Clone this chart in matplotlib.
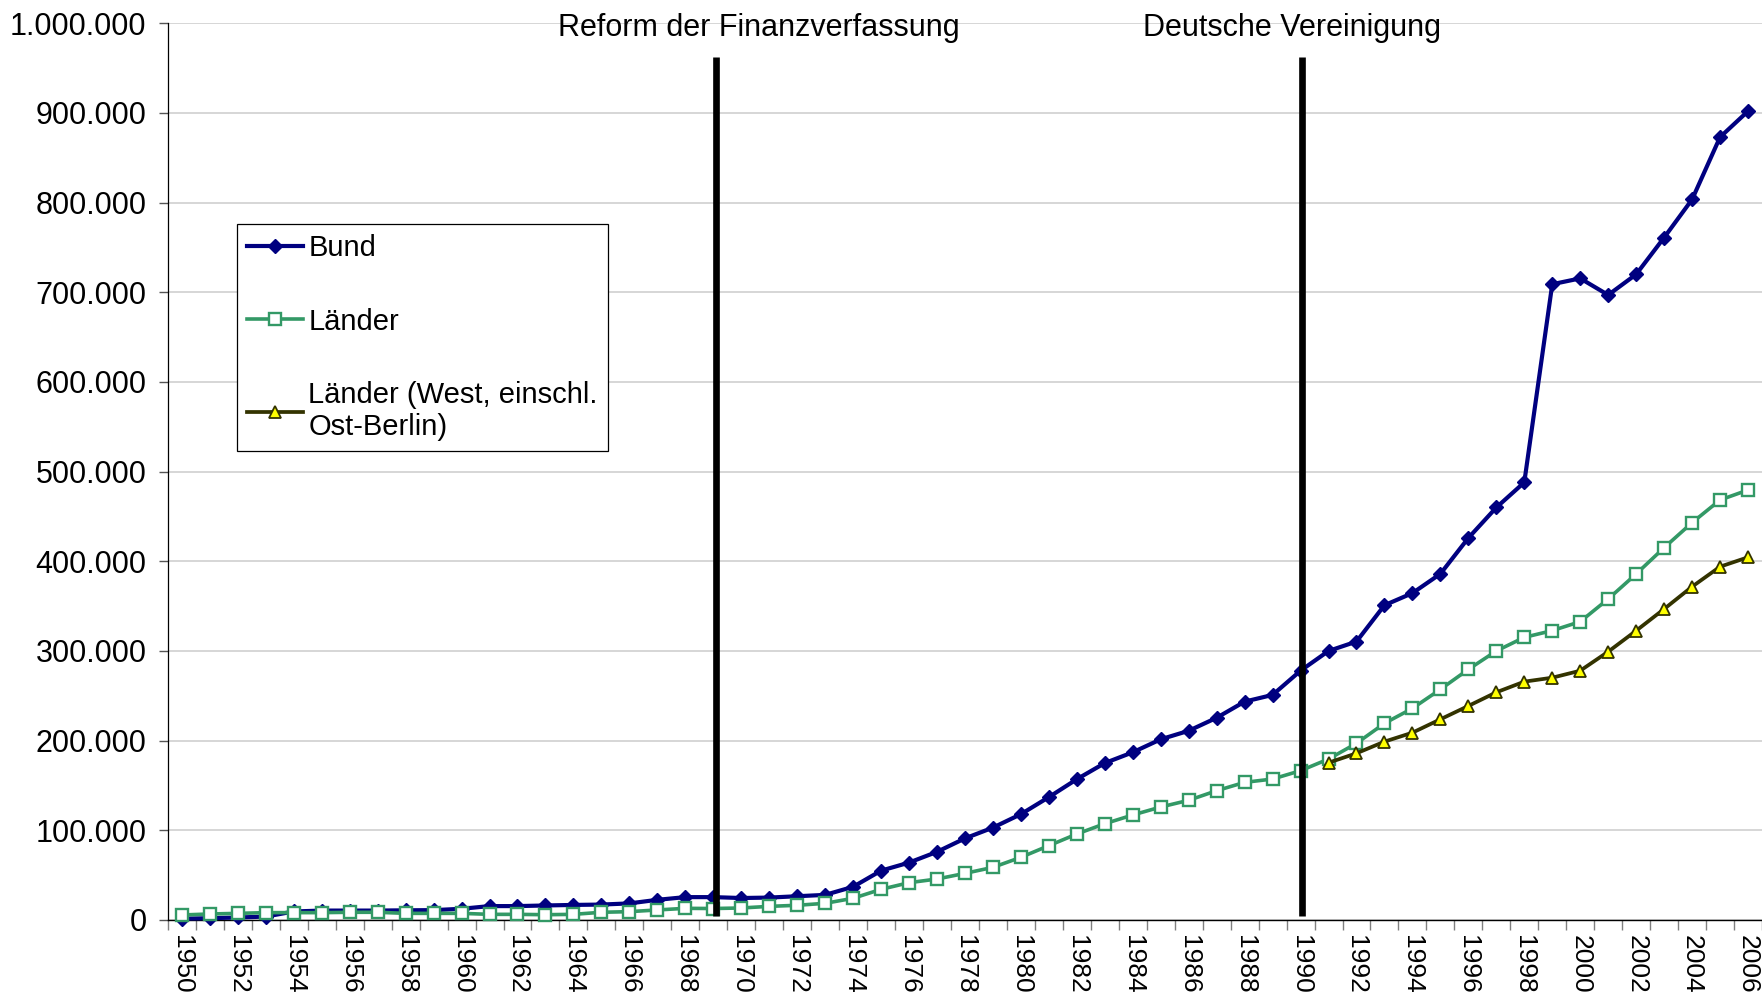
import matplotlib
matplotlib.use('Agg')
import matplotlib.pyplot as plt
from matplotlib.ticker import FuncFormatter

plt.rcParams['font.family'] = ['Liberation Sans', 'DejaVu Sans']

# Schulden in Tsd.
years = list(range(1950, 2007))
bund = [1.5, 2.0, 2.8, 3.8, 9.5, 10.5, 10.5, 10.5, 10.8, 11.0,
        12.5, 15.5, 15.5, 16.2, 16.8, 17.2, 18.5, 22.5, 25.5, 25.5,
        24.5, 25.0, 26.5, 28.0, 37.0, 55.0, 64.0, 76.0, 91.0, 103.0,
        118.0, 137.0, 157.0, 175.0, 187.0, 201.5, 211.0, 225.5, 243.5, 251.0,
        278.0, 300.0, 310.5, 351.0, 364.5, 386.0, 426.0, 460.0, 488.0, 709.0,
        715.5, 697.0, 720.0, 761.0, 803.5, 873.0, 902.0]
laender = [5.6, 6.7, 7.4, 8.2, 8.2, 8.2, 8.6, 8.6, 7.4, 7.4,
           7.4, 6.3, 6.3, 5.9, 6.3, 8.6, 9.3, 11.2, 13.0, 12.8,
           13.4, 15.2, 16.4, 18.6, 24.2, 34.2, 41.6, 45.7, 52.0, 58.7,
           69.9, 82.9, 95.9, 107.4, 117.1, 126.0, 133.5, 144.2, 153.5, 157.2,
           166.5, 179.5, 197.0, 219.3, 236.0, 257.2, 279.5, 300.0, 315.2, 322.7,
           332.7, 358.0, 385.9, 415.2, 443.1, 468.4, 479.5]
west_years = list(range(1991, 2007))
laender_west = [175.4, 185.9, 198.9, 208.9, 223.8, 238.7, 253.9, 265.8,
                270.2, 278.0, 299.2, 322.6, 346.8, 371.7, 394.0, 404.5]

labels = ['Bund', 'Länder', 'Länder (West, einschl.\nOst-Berlin)']
events = ['Reform der Finanzverfassung', 'Deutsche Vereinigung']
event_years = [1969.1, 1990.05]

fig = plt.figure(figsize=(17.62, 10.07), dpi=100)
ax = fig.add_axes([0.0953, 0.0864, 0.9047, 0.8905])

ax.plot(years, [v * 1000 for v in bund], color='#000080', lw=3.0,
        marker='D', ms=7, mec='#000080', mfc='#000080', clip_on=False,
        label=labels[0], zorder=3)
ax.plot(years, [v * 1000 for v in laender], color='#339966', lw=2.6,
        marker='s', ms=8.5, mec='#339966', mfc='white', mew=1.7, clip_on=False,
        label=labels[1], zorder=4)
ax.plot(west_years, [v * 1000 for v in laender_west], color='#333300', lw=2.7,
        marker='^', ms=8.5, mec='#333300', mfc='#FFFF00', mew=1.3, clip_on=False,
        label=labels[2], zorder=5)

# senkrechte Linien fuer die Ereignisse
text_x = [1970.64, 1989.7]
for name, yr, tx in zip(events, event_years, text_x):
    ax.plot([yr, yr], [5000, 962000], color='black', lw=4.8, zorder=6,
            solid_capstyle='butt')
    ax.text(tx, 994500, name, ha='center', va='center', fontsize=22)

ax.set_xlim(1949.5, 2006.5)
ax.set_ylim(0, 1000000)
ax.set_yticks(range(0, 1000001, 100000))
ax.yaxis.set_major_formatter(FuncFormatter(lambda v, p: f'{int(v):,}'.replace(',', '.')))
ax.grid(axis='y', color='#D0D0D0', lw=1.2)
ax.set_axisbelow(True)

# Striche zwischen den Jahren, Beschriftung jedes zweite Jahr
ax.set_xticks([y - 0.5 for y in years] + [2006.5])
ax.set_xticklabels([])
ax.set_xticks(years[::2], minor=True)
ax.set_xticklabels([str(y) for y in years[::2]], minor=True, rotation=270, fontsize=19)
ax.tick_params(axis='x', which='major', length=7, width=1, color='#808080')
ax.tick_params(axis='x', which='minor', length=0, pad=11)
ax.tick_params(axis='y', length=6.5, width=1, color='#555555', labelsize=22, pad=9)

for s in ['top', 'right']:
    ax.spines[s].set_visible(False)
ax.spines['left'].set_linewidth(0.9)
ax.spines['bottom'].set_linewidth(1.0)

leg = ax.legend(loc='upper left', bbox_to_anchor=(0.0433, 0.776), borderaxespad=0,
                fontsize=21, fancybox=False, framealpha=1, edgecolor='black',
                handlelength=1.9, handletextpad=0.2, labelspacing=1.55, borderpad=0.35)
leg.get_frame().set_linewidth(0.9)

fig.savefig('out.png', dpi=100)
